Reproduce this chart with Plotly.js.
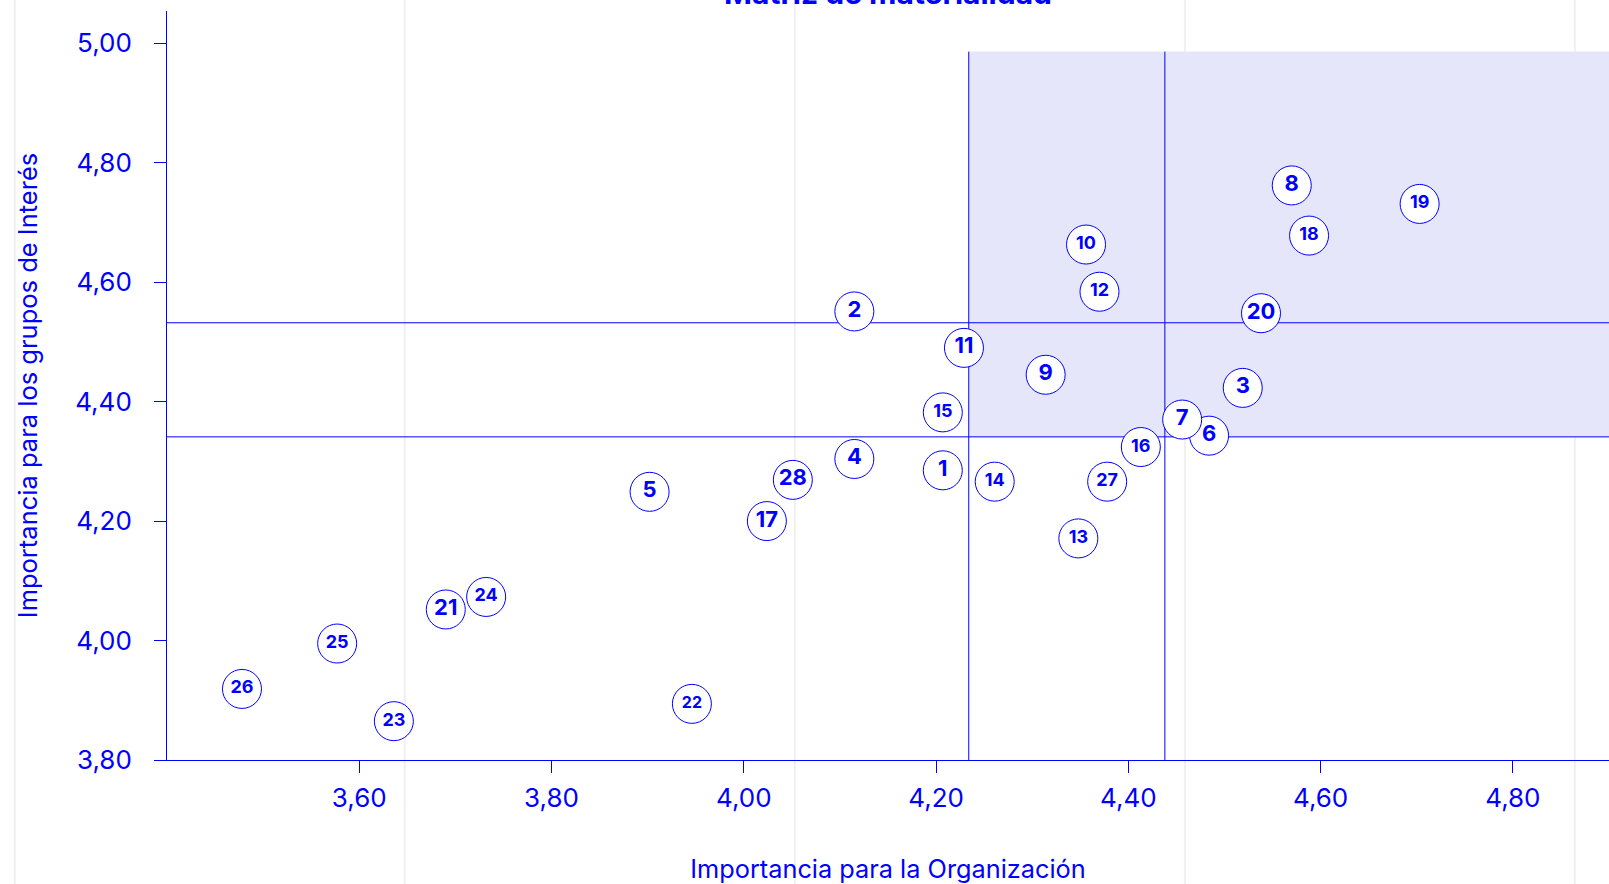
<!DOCTYPE html>
<html>
<head>
<meta charset="utf-8">
<script src="https://cdn.plot.ly/plotly-3.0.1.min.js"></script>
<style>
  html, body { margin: 0; padding: 0; background: #ffffff; }
  #chart { width: 1609px; height: 884px; }
</style>
</head>
<body>
<div id="chart"></div>
<script>
// ---- Data ----
const labels = ['1','2','3','4','5','6','7','8','9','10','11','12','13','14','15','16','17','18','19','20','21','22','23','24','25','26','27','28'];
// Importancia para la Organización (x)
const orgImportance = [4.207, 4.115, 4.519, 4.115, 3.902, 4.484, 4.456, 4.570, 4.314, 4.356, 4.229, 4.370, 4.348, 4.261, 4.207, 4.413, 4.024, 4.588, 4.703, 4.538, 3.690, 3.946, 3.636, 3.732, 3.577, 3.478, 4.378, 4.051];
// Importancia para los grupos de Interés (y)
const stakeholderImportance = [4.285, 4.551, 4.423, 4.304, 4.249, 4.343, 4.370, 4.762, 4.445, 4.663, 4.490, 4.584, 4.171, 4.266, 4.382, 4.324, 4.200, 4.678, 4.731, 4.548, 4.052, 3.894, 3.865, 4.073, 3.995, 3.919, 4.266, 4.269];
// Threshold reference values
const orgThresholds = [4.234, 4.438];
const stakeholderThresholds = [4.341, 4.532];
const regionTop = 4.986;
// Tick labels
const xTickVals = [3.6, 3.8, 4.0, 4.2, 4.4, 4.6, 4.8];
const xTickText = ['3,60', '3,80', '4,00', '4,20', '4,40', '4,60', '4,80'];
const yTickVals = [3.8, 4.0, 4.2, 4.4, 4.6, 4.8, 5.0];
const yTickText = ['3,80', '4,00', '4,20', '4,40', '4,60', '4,80', '5,00'];

// ---- Styling ----
const BLUE = '#0000ff';
const FONT = 'Inter, "Open Sans", sans-serif';
const bigLabels = ['1','2','3','4','5','6','7','8','9','11','17','20','21','28'];
const labelSizes = labels.map(l => bigLabels.includes(l) ? 22 : (l === '22' ? 16 : 18));

const xRange = [3.4, 4.9];
const yRange = [3.8, 5.054];

const trace = {
  type: 'scatter',
  mode: 'markers+text',
  x: orgImportance,
  y: stakeholderImportance,
  text: labels,
  textposition: 'middle center',
  textfont: { family: FONT, size: labelSizes, color: BLUE, weight: 700 },
  marker: { size: 39, color: '#ffffff', line: { color: BLUE, width: 1 } },
  hoverinfo: 'none',
  cliponaxis: false,
  showlegend: false
};

// page background column guides (paper coordinates)
const guideX = [-0.1056, 0.1649, 0.4354, 0.7059, 0.9763];
const shapes = guideX.map(g => ({
  type: 'line', xref: 'paper', yref: 'paper', x0: g, x1: g, y0: -0.2, y1: 1.1,
  line: { color: '#f0f0f0', width: 2 }, layer: 'below'
}));
shapes.push({
  type: 'rect', xref: 'x', yref: 'y',
  x0: orgThresholds[0], x1: xRange[1], y0: stakeholderThresholds[0], y1: regionTop,
  fillcolor: '#e6e6fa', line: { width: 0 }, layer: 'below'
});
orgThresholds.forEach(v => shapes.push({
  type: 'line', xref: 'x', yref: 'y', x0: v, x1: v, y0: yRange[0], y1: regionTop,
  line: { color: BLUE, width: 1 }, layer: 'below'
}));
stakeholderThresholds.forEach(v => shapes.push({
  type: 'line', xref: 'x', yref: 'y', x0: xRange[0], x1: xRange[1], y0: v, y1: v,
  line: { color: BLUE, width: 1 }, layer: 'below'
}));

const layout = {
  width: 1609,
  height: 884,
  margin: { l: 167, r: 0, t: 11, b: 124, pad: 0 },
  paper_bgcolor: '#ffffff',
  plot_bgcolor: 'rgba(0,0,0,0)',
  font: { family: FONT, color: BLUE },
  title: {
    text: 'Matriz de materialidad',
    font: { family: FONT, size: 30, color: BLUE, weight: 700 },
    x: 0.5, xref: 'paper', xanchor: 'center',
    y: 1, yref: 'container', yanchor: 'top',
    pad: { t: -17 }
  },
  xaxis: {
    range: xRange,
    tickvals: xTickVals,
    ticktext: xTickText,
    showgrid: false, zeroline: false,
    showline: true, linecolor: BLUE, linewidth: 1,
    ticks: 'outside', ticklen: 12, tickcolor: BLUE, tickwidth: 1,
    tickfont: { family: FONT, size: 26, color: BLUE },
    ticklabelstandoff: 3,
    title: { text: 'Importancia para la Organización', font: { family: FONT, size: 25.3, color: BLUE }, standoff: 48 }
  },
  yaxis: {
    range: yRange,
    tickvals: yTickVals,
    ticktext: yTickText,
    showgrid: false, zeroline: false,
    showline: true, linecolor: BLUE, linewidth: 1,
    ticks: 'outside', ticklen: 12, tickcolor: BLUE, tickwidth: 1,
    tickfont: { family: FONT, size: 26, color: BLUE },
    ticklabelstandoff: 17,
    title: { text: 'Importancia para los grupos de Interés', font: { family: FONT, size: 25.5, color: BLUE }, standoff: 30 }
  },
  shapes: shapes,
  hovermode: false,
  showlegend: false
};

Plotly.newPlot('chart', [trace], layout, { displayModeBar: false, staticPlot: true });
</script>
</body>
</html>
